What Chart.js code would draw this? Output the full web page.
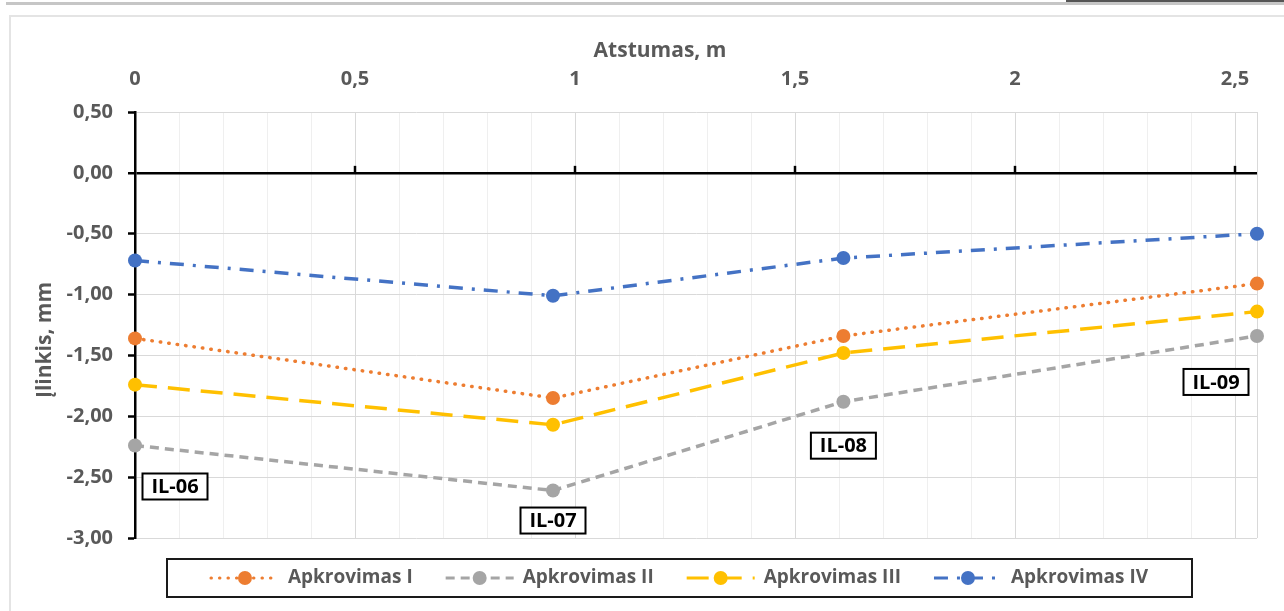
<!DOCTYPE html>
<html>
<head>
<meta charset="utf-8">
<title>Įlinkis</title>
<script src="https://cdn.jsdelivr.net/npm/chart.js@4/dist/chart.umd.min.js"></script>
<style>
  html, body { margin: 0; padding: 0; background: #fff; }
  #wrap { position: relative; width: 1284px; height: 611px; overflow: hidden; }
  #topbar { position: absolute; left: 6px; right: 0; top: 2px; height: 3px; background: #c6c6c6; }
  #topdark { position: absolute; left: 1066px; right: 0; top: 0; height: 2px; background: #555; }
  #frame { position: absolute; left: 9px; top: 15px; right: -6px; bottom: -6px; border: 2px solid #e4e4e4; }
  #chart { position: absolute; left: 0; top: 0; }
</style>
</head>
<body>
<div id="wrap">
  <div id="topbar"></div>
  <div id="topdark"></div>
  <div id="frame"></div>
  <canvas id="chart" width="1284" height="611"></canvas>
</div>
<script>
// Sensor positions along the beam (m) and their names
const distances = [0, 0.95, 1.61, 2.55];
const sensorNames = ['IL-06', 'IL-07', 'IL-08', 'IL-09'];

// Deflection per load stage (mm)
const seriesNames = ['Apkrovimas I', 'Apkrovimas II', 'Apkrovimas III', 'Apkrovimas IV'];
const loadI   = [-1.36, -1.85, -1.34, -0.91];
const loadII  = [-2.24, -2.61, -1.88, -1.34];
const loadIII = [-1.74, -2.07, -1.48, -1.14];
const loadIV  = [-0.72, -1.01, -0.70, -0.50];

// Axis settings
const xMax = 2.55;
const xMajorTicks = [0, 0.5, 1, 1.5, 2, 2.5];
const yMin = -3, yMax = 0.5, yStep = 0.5;

const TEXT_GRAY = '#595959';
const FONT = 'Open Sans';

const styles = [
  { color: '#ED7D31', dash: [0.5, 8], cap: 'round' },
  { color: '#A5A5A5', dash: [9, 6], cap: 'butt' },
  { color: '#FFC000', dash: [22, 11], cap: 'butt' },
  { color: '#4472C4', dash: [14, 9, 3, 9], cap: 'butt' }
];
const seriesValues = [loadI, loadII, loadIII, loadIV];

const isMajor = v => Math.abs(v * 2 - Math.round(v * 2)) < 1e-6;
const fmtX = v => String(Math.round(v * 10) / 10).replace('.', ',');
const fmtY = v => (Math.abs(v) < 1e-9 ? 0 : v).toFixed(2).replace('.', ',');

const datasets = seriesValues.map((vals, i) => ({
  label: seriesNames[i],
  data: distances.map((d, j) => ({ x: d, y: vals[j] })),
  borderColor: styles[i].color,
  backgroundColor: styles[i].color,
  borderWidth: 3.5,
  borderDash: styles[i].dash,
  borderCapStyle: styles[i].cap,
  pointRadius: 7,
  pointHoverRadius: 7,
  pointBorderWidth: 0,
  pointBackgroundColor: styles[i].color,
  tension: 0,
  clip: false
}));

// Axis titles placed on the canvas
const axisTitles = {
  id: 'axisTitles',
  afterDraw(chart) {
    const ctx = chart.ctx;
    ctx.save();
    ctx.fillStyle = TEXT_GRAY;
    ctx.font = `bold 21px "${FONT}"`;
    ctx.textAlign = 'center';
    ctx.textBaseline = 'middle';
    ctx.fillText('Atstumas, m', 660, 51);
    ctx.translate(45, 340);
    ctx.rotate(-Math.PI / 2);
    ctx.fillText('Įlinkis, mm', 0, 0);
    ctx.restore();
  }
};

// Small upward tick marks on the zero line at every major distance
const zeroTicks = {
  id: 'zeroTicks',
  afterDatasetsDraw(chart) {
    const { x, y } = chart.scales;
    const ctx = chart.ctx;
    const y0 = y.getPixelForValue(0);
    ctx.save();
    ctx.strokeStyle = '#000';
    ctx.lineWidth = 2.5;
    xMajorTicks.forEach(v => {
      if (v === 0) return;
      const px = x.getPixelForValue(v);
      ctx.beginPath();
      ctx.moveTo(px, y0);
      ctx.lineTo(px, y0 - 7);
      ctx.stroke();
    });
    ctx.restore();
  }
};

// Boxed sensor names beneath the lowest curve
const sensorBoxes = {
  id: 'sensorBoxes',
  afterDatasetsDraw(chart, args, opts) {
    const { x, y } = chart.scales;
    const ctx = chart.ctx;
    ctx.save();
    ctx.font = `bold 20px "${FONT}"`;
    ctx.textAlign = 'center';
    ctx.textBaseline = 'middle';
    sensorNames.forEach((name, i) => {
      const cx = x.getPixelForValue(distances[i]) + opts.dx[i];
      const cy = y.getPixelForValue(loadII[i]) + opts.dy[i];
      const w = 65, h = 26;
      ctx.fillStyle = '#fff';
      ctx.fillRect(cx - w / 2, cy - h / 2, w, h);
      ctx.strokeStyle = '#000';
      ctx.lineWidth = 2;
      ctx.strokeRect(cx - w / 2, cy - h / 2, w, h);
      ctx.fillStyle = '#000';
      ctx.fillText(name, cx, cy + 1);
    });
    ctx.restore();
  }
};

// Legend with line samples and markers in a framed box
const boxLegend = {
  id: 'boxLegend',
  afterDraw(chart) {
    const ctx = chart.ctx;
    const box = { left: 167, right: 1192, top: 559, bottom: 597 };
    const cy = (box.top + box.bottom) / 2;
    const sample = 68, gap = 9, itemGap = 33;
    ctx.save();
    ctx.font = `bold 19px "${FONT}"`;
    const widths = seriesNames.map(n => ctx.measureText(n).width);
    const total = widths.reduce((a, b) => a + b, 0) + seriesNames.length * (sample + gap) + (seriesNames.length - 1) * itemGap;
    let xPos = (box.left + box.right) / 2 - total / 2;

    ctx.fillStyle = '#fff';
    ctx.fillRect(box.left, box.top, box.right - box.left, box.bottom - box.top);
    ctx.strokeStyle = '#1a1a1a';
    ctx.lineWidth = 2;
    ctx.strokeRect(box.left, box.top, box.right - box.left, box.bottom - box.top);

    chart.data.datasets.forEach((ds, i) => {
      ctx.save();
      ctx.strokeStyle = ds.borderColor;
      ctx.lineWidth = 3;
      ctx.lineCap = ds.borderCapStyle;
      ctx.setLineDash(ds.borderDash);
      ctx.beginPath();
      ctx.moveTo(xPos, cy);
      ctx.lineTo(xPos + sample, cy);
      ctx.stroke();
      ctx.setLineDash([]);
      ctx.fillStyle = ds.borderColor;
      ctx.beginPath();
      ctx.arc(xPos + sample / 2, cy, 7, 0, Math.PI * 2);
      ctx.fill();
      ctx.restore();
      ctx.fillStyle = TEXT_GRAY;
      ctx.textAlign = 'left';
      ctx.textBaseline = 'middle';
      ctx.fillText(ds.label, xPos + sample + gap, cy);
      xPos += sample + gap + widths[i] + itemGap;
    });
    ctx.restore();
  }
};

new Chart(document.getElementById('chart'), {
  type: 'line',
  data: { datasets },
  options: {
    responsive: false,
    devicePixelRatio: 1,
    animation: false,
    events: [],
    layout: { padding: { left: 20, right: 27, top: 30, bottom: 73 } },
    plugins: {
      legend: { display: false },
      tooltip: { enabled: false },
      sensorBoxes: { dx: [40, 0, 0, -41], dy: [41, 30, 44, 46] }
    },
    scales: {
      x: {
        type: 'linear',
        position: 'top',
        min: 0,
        max: xMax,
        afterBuildTicks(scale) {
          const ticks = [];
          for (let k = 0; k <= 25; k++) ticks.push({ value: k / 10 });
          ticks.push({ value: xMax });
          scale.ticks = ticks;
        },
        afterFit(scale) { scale.height = 82; },
        ticks: {
          autoSkip: false,
          maxRotation: 0,
          padding: 21,
          color: TEXT_GRAY,
          font: { family: FONT, size: 20, weight: 'bold' },
          callback: v => (isMajor(v) && v <= 2.5 + 1e-9 ? fmtX(v) : '')
        },
        grid: {
          drawTicks: false,
          color: ctx => (ctx.tick && isMajor(ctx.tick.value) ? '#d9d9d9' : (ctx.tick && Math.abs(ctx.tick.value - xMax) < 1e-9 ? '#d9d9d9' : '#efefef')),
          lineWidth: 1
        },
        border: { display: false },
        title: { display: false }
      },
      y: {
        type: 'linear',
        min: yMin,
        max: yMax,
        afterFit(scale) { scale.width = 115; },
        ticks: {
          stepSize: yStep,
          padding: 15,
          color: TEXT_GRAY,
          font: { family: FONT, size: 20, weight: 'bold' },
          callback: v => fmtY(v)
        },
        grid: {
          color: ctx => (ctx.tick && Math.abs(ctx.tick.value) < 1e-9 ? '#000' : '#d9d9d9'),
          lineWidth: ctx => (ctx.tick && Math.abs(ctx.tick.value) < 1e-9 ? 2.5 : 1),
          drawTicks: true,
          tickLength: 7,
          tickColor: '#000',
          tickWidth: 2.5
        },
        border: { display: true, color: '#000', width: 2.5 },
        title: { display: false }
      }
    }
  },
  plugins: [zeroTicks, sensorBoxes, axisTitles, boxLegend]
});
</script>
</body>
</html>
